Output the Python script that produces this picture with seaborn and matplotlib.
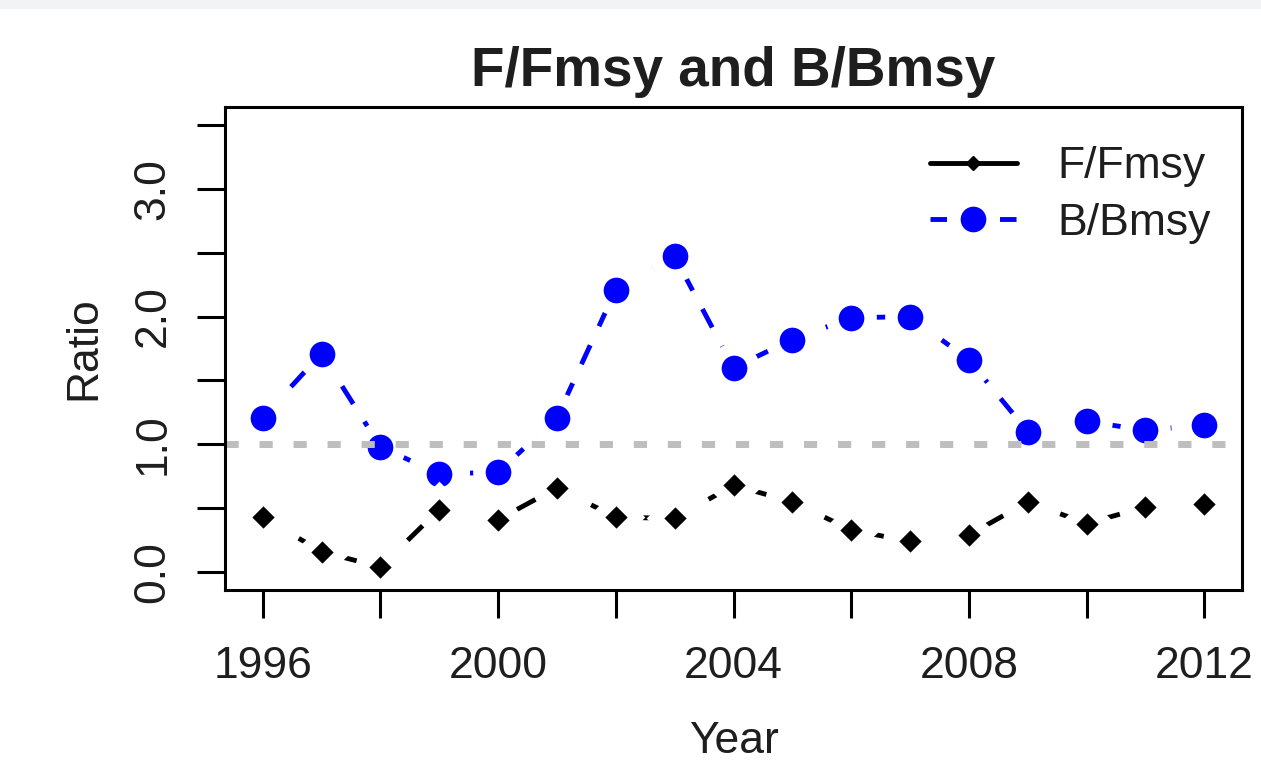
import matplotlib
matplotlib.use("Agg")
import matplotlib.pyplot as plt
from matplotlib.lines import Line2D
from matplotlib.patches import Rectangle
import seaborn as sns
import pandas as pd

# Data
years = list(range(1996, 2013))
f_fmsy = [0.43, 0.16, 0.04, 0.49, 0.41, 0.66, 0.43, 0.42, 0.68,
          0.55, 0.33, 0.24, 0.29, 0.55, 0.38, 0.51, 0.53]
b_bmsy = [1.21, 1.71, 0.98, 0.77, 0.78, 1.21, 2.21, 2.47, 1.60,
          1.82, 1.99, 2.00, 1.66, 1.10, 1.18, 1.11, 1.15]
x_ticks = list(range(1996, 2013, 2))
x_labels = ["1996", "", "2000", "", "2004", "", "2008", "", "2012"]
y_ticks = [0.0, 0.5, 1.0, 1.5, 2.0, 2.5, 3.0, 3.5]
y_labels = ["0.0", "", "1.0", "", "2.0", "", "3.0", ""]
ref_level = 1.0

df = pd.DataFrame({"Year": years, "F/Fmsy": f_fmsy, "B/Bmsy": b_bmsy})

sns.set_theme(style="white")
plt.rcParams["font.family"] = ["Liberation Sans", "DejaVu Sans"]
txt = "#1e1e1e"
dash = (0, (4.3, 4.3))
lw = 3.5

fig = plt.figure(figsize=(12.61, 7.74), dpi=100)
fig.patches.append(Rectangle((0, 766 / 774), 1, 8 / 774, transform=fig.transFigure,
                             color="#f2f3f5", zorder=0))
ax = fig.add_axes([225 / 1261, 1 - 590 / 774, (1242 - 225) / 1261, (590 - 107) / 774])

# B/Bmsy: blue dashed line with big dots (white ring gives the R type="b" gaps)
sns.lineplot(data=df, x="Year", y="B/Bmsy", ax=ax, color="#0000ff", linewidth=lw,
             linestyle=dash, marker="o", markersize=27.5,
             markerfacecolor="#0000ff", markeredgecolor="white",
             markeredgewidth=9, errorbar=None, legend=False, zorder=3)
# F/Fmsy: black dashed line with diamonds
sns.lineplot(data=df, x="Year", y="F/Fmsy", ax=ax, color="black", linewidth=lw,
             linestyle=dash, marker="D", markersize=20.5,
             markerfacecolor="black", markeredgecolor="white",
             markeredgewidth=9, errorbar=None, legend=False, zorder=3)

ax.axhline(ref_level, color="#bebebe", linewidth=5, linestyle=(0, (1.9, 3.0)), zorder=4)

ax.set_xlim(1995.36, 2012.64)
ax.set_ylim(-0.14, 3.64)
ax.set_xticks(x_ticks)
ax.set_xticklabels(x_labels)
ax.set_yticks(y_ticks)
ax.set_yticklabels(y_labels, rotation=90, va="center")

ax.tick_params(axis="both", direction="out", length=20, width=2.2, color="black",
               labelsize=32, labelcolor=txt, left=True, bottom=True)
ax.tick_params(axis="x", pad=20)
ax.tick_params(axis="y", pad=17)
for s in ax.spines.values():
    s.set_color("black")
    s.set_linewidth(2.2)
    s.set_zorder(6)

ax.set_xlabel("Year", fontsize=32, color=txt, labelpad=25)
ax.set_ylabel("Ratio", fontsize=32, color=txt, labelpad=20)
ax.set_title("F/Fmsy and B/Bmsy", fontsize=39.5, fontweight="bold", color=txt, pad=15)

handles = [
    Line2D([], [], color="black", linewidth=lw, marker="D", markersize=7.6),
    Line2D([], [], color="#0000ff", linewidth=lw, linestyle=(0, (3.4, 10.9)),
           marker="o", markersize=27.5, markeredgecolor="white", markeredgewidth=9),
]
ax.legend(handles, ["F/Fmsy", "B/Bmsy"], loc="upper left",
          bbox_to_anchor=(0.671, 0.965), frameon=False, fontsize=32,
          handlelength=1.96, handletextpad=0.92, borderpad=0,
          labelspacing=0.35, labelcolor=txt)

fig.savefig("out.png", dpi=100)
